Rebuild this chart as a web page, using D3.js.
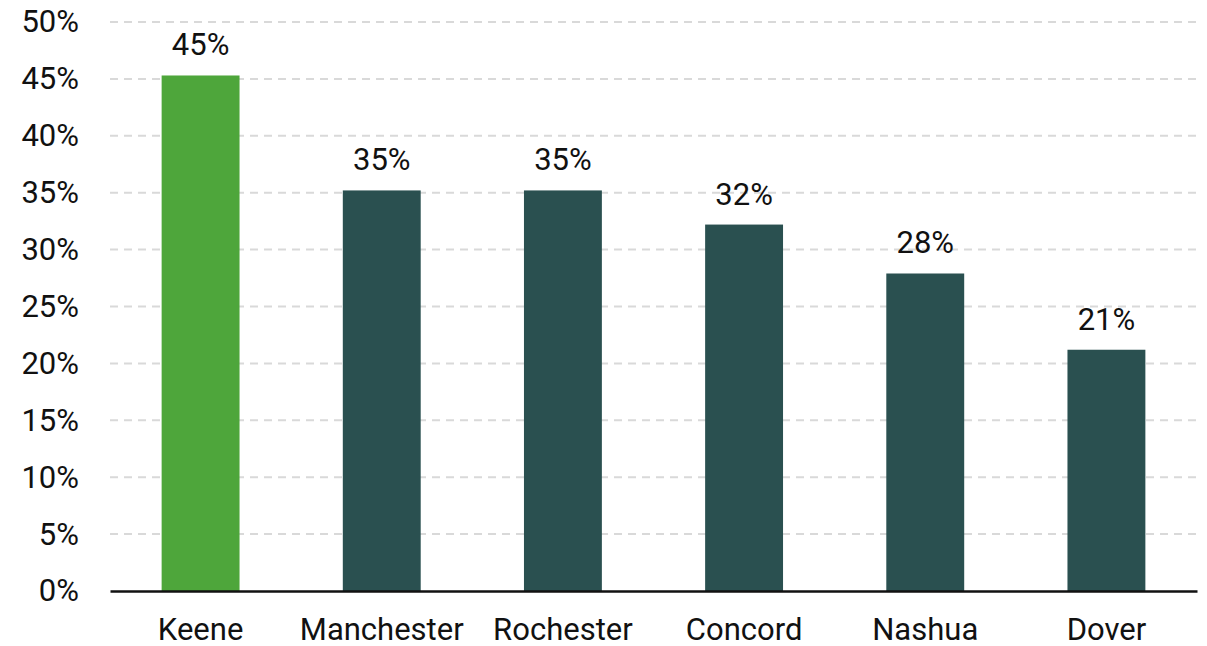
<!DOCTYPE html>
<html>
<head>
<meta charset="utf-8">
<script src="https://cdn.jsdelivr.net/npm/d3@7"></script>
<style>
  body { margin: 0; background: #fff; }
  text { font-family: Roboto, "Noto Sans", sans-serif; fill: #111; }
</style>
</head>
<body>
<script>
// data
var cities = ["Keene", "Manchester", "Rochester", "Concord", "Nashua", "Dover"];
var shares = [45.3, 35.2, 35.2, 32.2, 27.9, 21.2];
var labels = ["45%", "35%", "35%", "32%", "28%", "21%"];
var yTicks = [0, 5, 10, 15, 20, 25, 30, 35, 40, 45, 50];

var width = 1207, height = 646;
var margin = {top: 22, right: 10, bottom: 55, left: 110};
var fontSize = "31px";

var svg = d3.select("body").append("svg")
    .attr("width", width)
    .attr("height", height);

var x = d3.scaleBand()
    .domain(cities)
    .range([margin.left, width - margin.right])
    .paddingInner(0.57)
    .paddingOuter(0.285);

var y = d3.scaleLinear()
    .domain([0, 50])
    .range([height - margin.bottom, margin.top]);

// dashed grid
svg.append("g")
    .selectAll("line")
    .data(yTicks.slice(1))
    .enter().append("line")
    .attr("x1", margin.left)
    .attr("x2", width - margin.right)
    .attr("y1", function(d){ return y(d); })
    .attr("y2", function(d){ return y(d); })
    .attr("stroke", "#d9d9d9")
    .attr("stroke-width", 2)
    .attr("stroke-dasharray", "8,6");

// y axis labels
var yAxis = d3.axisLeft(y)
    .tickValues(yTicks)
    .tickSize(0)
    .tickPadding(31)
    .tickFormat(function(d){ return d + "%"; });

svg.append("g")
    .attr("transform", "translate(" + margin.left + ",0)")
    .call(yAxis)
    .call(function(g){ g.select(".domain").remove(); })
    .selectAll("text")
    .style("font-size", fontSize)
    .attr("fill", "#111");

// bars
svg.append("g")
    .selectAll("rect")
    .data(cities)
    .enter().append("rect")
    .attr("x", function(d){ return x(d); })
    .attr("width", x.bandwidth())
    .attr("y", function(d, i){ return y(shares[i]); })
    .attr("height", function(d, i){ return y(0) - y(shares[i]); })
    .attr("fill", function(d, i){ return i == 0 ? "#4ea63b" : "#2a5050"; });

// value labels
svg.append("g")
    .selectAll("text")
    .data(cities)
    .enter().append("text")
    .attr("x", function(d){ return x(d) + x.bandwidth() / 2; })
    .attr("y", function(d, i){ return y(shares[i]) - 20; })
    .attr("text-anchor", "middle")
    .style("font-size", fontSize)
    .text(function(d, i){ return labels[i]; });

// x axis
var xAxis = d3.axisBottom(x)
    .tickSize(0)
    .tickPadding(27);

svg.append("g")
    .attr("transform", "translate(0," + y(0) + ")")
    .call(xAxis)
    .call(function(g){
        g.select(".domain").attr("stroke", "#111").attr("stroke-width", 2.5);
    })
    .selectAll("text")
    .style("font-size", fontSize)
    .attr("fill", "#111");
</script>
</body>
</html>
